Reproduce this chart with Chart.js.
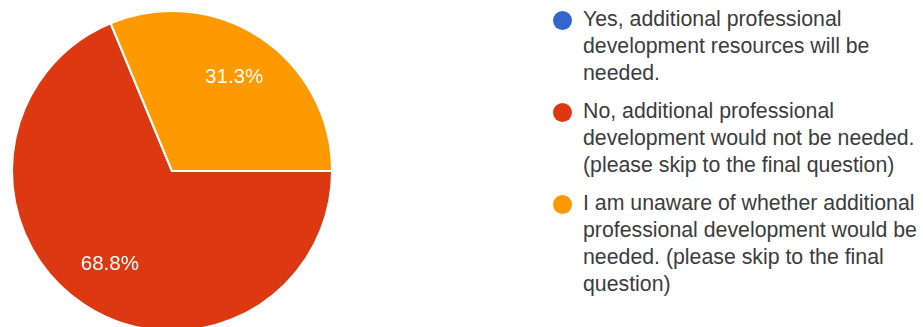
<!DOCTYPE html>
<html>
<head>
<meta charset="utf-8">
<script src="https://cdn.jsdelivr.net/npm/chart.js@4"></script>
<style>
  html, body { margin: 0; padding: 0; background: #fff; overflow: hidden; }
  body { width: 923px; height: 327px; position: relative; font-family: "Liberation Sans", Arial, sans-serif; }
  #pieBox { position: absolute; left: 0; top: 0; width: 344px; height: 342px; }
  #legenda { position: absolute; left: 552px; top: 6px; width: 371px; }
  .item { position: relative; padding-left: 31px; font-size: 21.3px; line-height: 27px; color: #3c3c3c; margin-bottom: 11px; white-space: nowrap; }
  .bola { position: absolute; left: 1px; top: 5px; width: 19px; height: 19px; border-radius: 50%; }
</style>
</head>
<body>
<div id="pieBox"><canvas id="myChartPizza"></canvas></div>
<div id="legenda"></div>
<script>
const labelsPizza = [
  "Yes, additional professional development resources will be needed.",
  "No, additional professional development would not be needed. (please skip to the final question)",
  "I am unaware of whether additional professional development would be needed. (please skip to the final question)"
];
// linhas da legenda como aparecem na imagem
const linhasLegenda = [
  ["Yes, additional professional", "development resources will be", "needed."],
  ["No, additional professional", "development would not be needed.", "(please skip to the final question)"],
  ["I am unaware of whether additional", "professional development would be", "needed. (please skip to the final", "question)"]
];
const valoresPizza = [0, 68.8, 31.3];
const coresPizza = ["#3366cc", "#dc3912", "#ff9900"];

// legenda em HTML
for (let i = 0; i < labelsPizza.length; i++) {
  legenda.innerHTML += `<div class="item"><span class="bola" style="background:${coresPizza[i]}"></span>${linhasLegenda[i].join("<br/>")}</div>`;
}

// porcentagens dentro das fatias
const rotulosPlugin = {
  id: "rotulos",
  afterDatasetsDraw(chart) {
    const ctx = chart.ctx;
    const meta = chart.getDatasetMeta(0);
    ctx.save();
    ctx.fillStyle = "white";
    ctx.font = '20.5px "Liberation Sans", Arial, sans-serif';
    ctx.textAlign = "center";
    ctx.textBaseline = "middle";
    meta.data.forEach((arc, i) => {
      const v = valoresPizza[i];
      if (!v) return;
      const p = arc.getProps(["x", "y", "startAngle", "endAngle", "outerRadius"], true);
      const meio = (p.startAngle + p.endAngle) / 2;
      const r = p.outerRadius * 0.7;
      ctx.fillText(v.toFixed(1) + "%", p.x + Math.cos(meio) * r, p.y + Math.sin(meio) * r);
    });
    ctx.restore();
  }
};

const configPizza = {
  type: "pie",
  data: {
    labels: labelsPizza,
    datasets: [{
      data: valoresPizza,
      backgroundColor: coresPizza,
      borderColor: "white",
      borderWidth: 2
    }]
  },
  options: {
    responsive: true,
    maintainAspectRatio: false,
    animation: false,
    rotation: 90,
    layout: { padding: 10 },
    plugins: {
      legend: { display: false },
      tooltip: { enabled: false }
    }
  },
  plugins: [rotulosPlugin]
};

var myChartPizza = new Chart(document.getElementById("myChartPizza"), configPizza);
</script>
</body>
</html>
